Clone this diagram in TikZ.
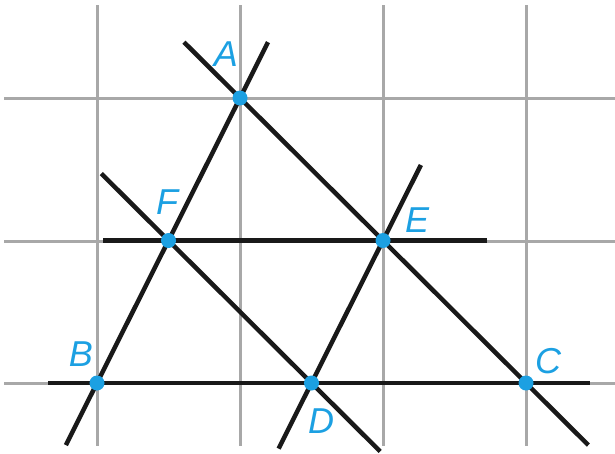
\documentclass[tikz,border=0pt]{standalone}
\usepackage{fontspec}
\newfontfamily\lblfont{Liberation Sans}
\usetikzlibrary{calc}
\definecolor{ptblue}{RGB}{28,160,226}
\definecolor{gridgray}{RGB}{168,168,168}
\tikzset{
	gridline/.style={gridgray, line width=3pt},
	segline/.style={black!90, line width=4.5pt},
	ptdot/.style={fill=ptblue},
	ptlabel/.style={text=ptblue, inner sep=0pt, font=\lblfont\itshape\fontsize{36}{36}\selectfont}
}
\begin{document}
\begin{tikzpicture}[x=1pt, y=-1pt]
	\useasboundingbox (0,0) rectangle (615,453);
	\foreach \x in {97,240,383,526}
		\draw[gridline] (\x,5) -- (\x,446);
	\foreach \y in {98,241,383}
		\draw[gridline] (4,\y) -- (615,\y);
	\coordinate (A) at (240,98);
	\coordinate (B) at (97,383);
	\coordinate (C) at (526,383);
	\coordinate (F) at ($(A)!0.5!(B)$);
	\coordinate (E) at ($(A)!0.5!(C)$);
	\coordinate (D) at ($(B)!0.5!(C)$);
	\draw[segline] ($(B)!-0.218!(A)$) -- ($(B)!1.196!(A)$);
	\draw[segline] ($(A)!-0.196!(C)$) -- ($(A)!1.218!(C)$);
	\draw[segline] ($(F)!-0.47!(D)$) -- ($(F)!1.48!(D)$);
	\draw[segline] ($(D)!-0.46!(E)$) -- ($(D)!1.53!(E)$);
	\draw[segline] ($(F)!-0.305!(E)$) -- ($(F)!1.485!(E)$);
	\draw[segline] ($(B)!-0.114!(C)$) -- ($(B)!1.149!(C)$);
	\foreach \p in {A,B,C,D,E,F}
		\fill[ptdot] (\p) circle[radius=7.5pt];
	\node[ptlabel] (lA) at (226,54) {A};
	\node[ptlabel] (lB) at (81,354) {B};
	\node[ptlabel] (lC) at (548,361) {C};
	\node[ptlabel] (lD) at (321,421) {D};
	\node[ptlabel] (lE) at (417,220) {E};
	\node[ptlabel] (lF) at (167,202) {F};
\end{tikzpicture}
\end{document}
